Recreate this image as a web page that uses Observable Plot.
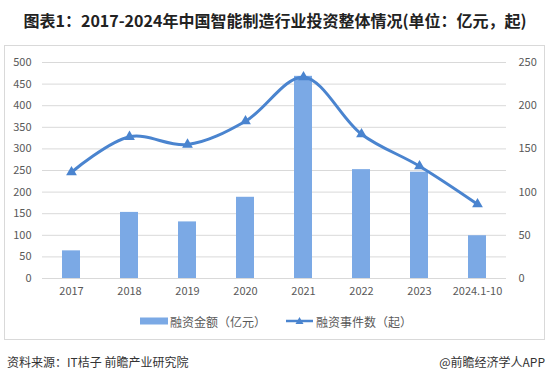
<!DOCTYPE html>
<html>
<head>
<meta charset="utf-8">
<script src="https://cdn.jsdelivr.net/npm/d3@7"></script>
<script src="https://cdn.jsdelivr.net/npm/@observablehq/plot@0.6"></script>
<style>
  html, body { margin: 0; padding: 0; background: #fff; }
  body { width: 550px; height: 383px; position: relative; overflow: hidden; font-family: "Noto Sans CJK SC", "Noto Sans", sans-serif; }
  #title { position: absolute; left: 0; top: 8px; width: 550px; text-align: center; font-size: 16px; font-weight: bold; color: #222; white-space: nowrap; }
  #box { position: absolute; left: 4px; top: 45px; width: 541px; height: 295px; border: 1px solid #d9d9d9; box-sizing: border-box; }
  #chart { position: absolute; left: 0; top: 45px; }
  #legend { position: absolute; top: 313px; left: 0; width: 550px; font-size: 12px; color: #595959; }
  .item { position: absolute; top: 0; display: flex; align-items: center; height: 16px; white-space: nowrap; }
  #footer-left { position: absolute; left: 7px; top: 353px; font-size: 12px; color: #333; white-space: nowrap; }
  #footer-right { position: absolute; right: 5px; top: 353px; font-size: 12px; color: #333; white-space: nowrap; }
</style>
</head>
<body>
<div id="title">图表1：2017-2024年中国智能制造行业投资整体情况(单位：亿元，起)</div>
<div id="box"></div>
<div id="chart"></div>
<div id="legend"></div>
<div id="footer-left">资料来源：IT桔子 前瞻产业研究院</div>
<div id="footer-right">@前瞻经济学人APP</div>
<script>
const years = ["2017", "2018", "2019", "2020", "2021", "2022", "2023", "2024.1-10"];
const amount = [64, 153, 131, 188, 468, 252, 246, 99];   // 融资金额（亿元）
const events = [123, 164, 155, 182, 233, 167, 130, 86];  // 融资事件数（起）
const leftTicks = [0, 50, 100, 150, 200, 250, 300, 350, 400, 450, 500];
const rightTicks = [0, 50, 100, 150, 200, 250];
const seriesNames = ["融资金额（亿元）", "融资事件数（起）"];

const barColor = "#7ba9e5";
const lineColor = "#4a84cf";
const ratio = 500 / 250;

const rows = years.map((y, i) => ({year: y, amount: amount[i], events: events[i], eventsScaled: events[i] * ratio}));

const chart = Plot.plot({
  width: 550,
  height: 265,
  marginLeft: 42,
  marginRight: 44,
  marginTop: 17,
  marginBottom: 32,
  style: {fontFamily: "'Noto Sans CJK SC', 'Noto Sans', sans-serif", fontSize: "11px", color: "#595959", background: "transparent"},
  x: {domain: years, paddingInner: 0.69, paddingOuter: 0.345, label: null},
  y: {domain: [0, 500], label: null},
  marks: [
    Plot.gridY(leftTicks, {stroke: "#d9d9d9", strokeOpacity: 1}),
    Plot.axisY(leftTicks, {anchor: "left", tickSize: 0, tickPadding: 11, label: null, fontSize: 11}),
    Plot.axisY(rightTicks.map(d => d * ratio), {anchor: "right", tickSize: 0, tickPadding: 12, label: null, tickFormat: d => d / ratio, textAnchor: "start", fontSize: 11}),
    Plot.axisX({tickSize: 0, tickPadding: 9, label: null, fontSize: 11}),
    Plot.barY(rows, {x: "year", y: "amount", fill: barColor}),
    Plot.line(rows, {x: "year", y: "eventsScaled", stroke: lineColor, strokeWidth: 3, curve: "catmull-rom"}),
    Plot.dot(rows, {x: "year", y: "eventsScaled", symbol: "triangle", r: 4, fill: lineColor})
  ]
});
document.getElementById("chart").appendChild(chart);

// legend
const legend = document.getElementById("legend");
const items = [
  {name: seriesNames[0], left: 140, type: "bar"},
  {name: seriesNames[1], left: 286, type: "line"}
];
for (const it of items) {
  const div = document.createElement("div");
  div.className = "item";
  div.style.left = it.left + "px";
  const sw = document.createElementNS("http://www.w3.org/2000/svg", "svg");
  sw.setAttribute("width", 28);
  sw.setAttribute("height", 16);
  sw.style.marginRight = "2px";
  if (it.type === "bar") {
    sw.innerHTML = `<rect x="0" y="4.5" width="28" height="7" fill="${barColor}"/>`;
  } else {
    sw.innerHTML = `<line x1="0" x2="27" y1="8" y2="8" stroke="${lineColor}" stroke-width="2.5"/><path d="M13.5,4 L17.5,11 L9.5,11 Z" fill="${lineColor}"/>`;
  }
  div.appendChild(sw);
  const span = document.createElement("span");
  span.textContent = it.name;
  div.appendChild(span);
  legend.appendChild(div);
}
</script>
</body>
</html>
